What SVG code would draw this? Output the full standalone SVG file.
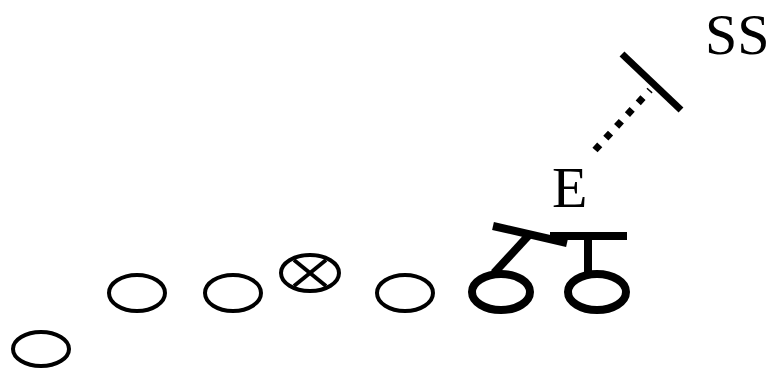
<svg xmlns="http://www.w3.org/2000/svg" width="773" height="372" viewBox="0 0 773 372">
<style>
.thin{fill:none;stroke:#000;stroke-width:4}
.thick{fill:none;stroke:#000;stroke-width:8}
.lbl{font-family:"Times New Roman","Liberation Serif",Tinos,serif;font-size:58px;fill:#000}
</style>
<rect width="773" height="372" fill="#fff"/>
<g id="p1"><ellipse class="thin" cx="41" cy="349" rx="28" ry="17"/></g>
<g id="p2"><ellipse class="thin" cx="137" cy="293" rx="28" ry="18"/></g>
<g id="p3"><ellipse class="thin" cx="233" cy="293" rx="28" ry="18"/></g>
<g id="center"><ellipse class="thin" cx="310" cy="273" rx="29" ry="18"/>
<line class="thin" x1="294" y1="260" x2="326" y2="286"/><line class="thin" x1="294" y1="286" x2="326" y2="260"/></g>
<g id="p5"><ellipse class="thin" cx="405" cy="293" rx="28" ry="18"/></g>
<g id="e1"><ellipse class="thick" cx="501" cy="292" rx="29" ry="18"/>
<line class="thick" x1="493" y1="226" x2="567" y2="243"/><line class="thick" x1="494" y1="273" x2="529" y2="235"/></g>
<g id="e2"><ellipse class="thick" cx="597" cy="292" rx="29" ry="18"/>
<line class="thick" x1="550" y1="236" x2="627" y2="236"/><line class="thick" x1="588" y1="236" x2="588" y2="274"/></g>
<g id="labels"><text class="lbl" x="552" y="207">E</text><text class="lbl" x="705" y="54">SS</text></g>
<g id="connectors">
<line x1="622" y1="54" x2="681" y2="110" stroke="#000" stroke-width="7"/>
<line x1="595" y1="150" x2="650" y2="90" stroke="#000" stroke-width="7" stroke-dasharray="7 9"/>
</g>
</svg>
